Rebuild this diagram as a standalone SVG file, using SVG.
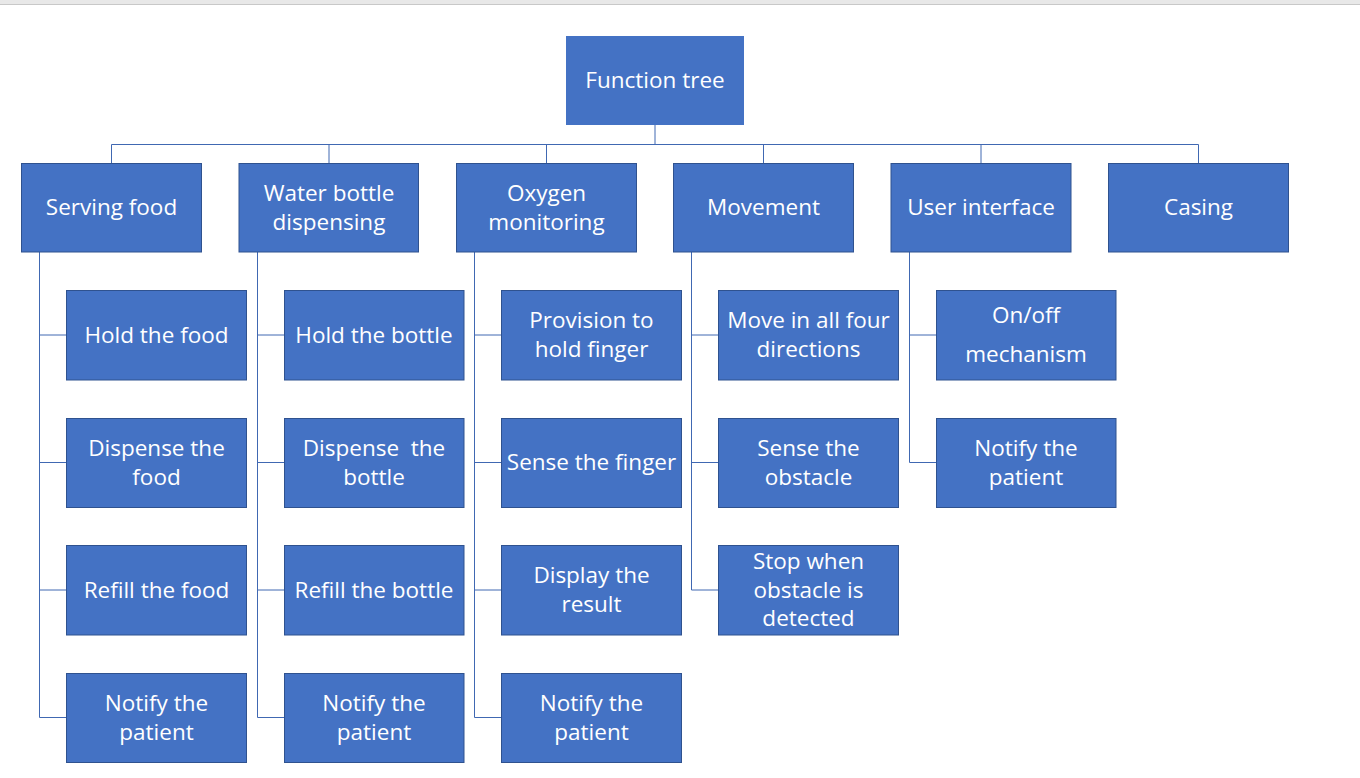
<svg xmlns="http://www.w3.org/2000/svg" width="1360" height="778" viewBox="0 0 1360 778">
<style>
.b{fill:#4472C4;stroke:#2F528F;stroke-width:1}
.r{fill:#4472C4}
.t{font-family:"Open Sans","Noto Sans",sans-serif;font-size:22.5px;fill:#ffffff;text-anchor:middle;white-space:pre}
.c{fill:none;stroke:#4068B2;stroke-width:1}
</style>
<rect x="0" y="0" width="1360" height="778" fill="#ffffff"/>
<rect x="0" y="0" width="1360" height="4" fill="#e8e8e8"/>
<line x1="0" y1="4.5" x2="1360" y2="4.5" stroke="#c8c8c8" stroke-width="1"/>
<g id="connectors">
<line class="c" x1="655" y1="125" x2="655" y2="144" stroke-width="2"/>
<path class="c" d="M111.5 163V144.5H1198.5V163M329 144.5V163M546.5 144.5V163M763.5 144.5V163M981 144.5V163"/>
<path class="c" d="M39.5 252V717.5H66M39.5 335H66M39.5 462.5H66M39.5 590H66"/>
<path class="c" d="M257.5 252V717.5H284M257.5 335H284M257.5 462.5H284M257.5 590H284"/>
<path class="c" d="M474.5 252V717.5H501M474.5 335H501M474.5 462.5H501M474.5 590H501"/>
<path class="c" d="M691.5 252V590H718M691.5 335H718M691.5 462.5H718"/>
<path class="c" d="M909.5 252V462.5H936M909.5 335H936"/>
</g>
<g id="root"><rect class="r" x="566" y="36" width="178" height="89"/><text class="t" x="655" y="88">Function tree</text></g>
<g id="serving"><rect class="b" x="21.5" y="163.5" width="180" height="88.5"/><text class="t" x="111.5" y="215">Serving food</text></g>
<g id="water"><rect class="b" x="239" y="163.5" width="179.5" height="88.5"/><text class="t" x="329" y="200.5">Water bottle</text><text class="t" x="329" y="229.5">dispensing</text></g>
<g id="oxygen"><rect class="b" x="456.5" y="163.5" width="180" height="88.5"/><text class="t" x="546.5" y="200.5">Oxygen</text><text class="t" x="546.5" y="229.5">monitoring</text></g>
<g id="movement"><rect class="b" x="673.5" y="163.5" width="180" height="88.5"/><text class="t" x="763.5" y="215">Movement</text></g>
<g id="ui"><rect class="b" x="891" y="163.5" width="180" height="88.5"/><text class="t" x="981" y="215">User interface</text></g>
<g id="casing"><rect class="b" x="1108.5" y="163.5" width="180" height="88.5"/><text class="t" x="1198.5" y="215">Casing</text></g>

<g id="hold-food"><rect class="b" x="66.5" y="290.5" width="180" height="89.5"/><text class="t" x="156.5" y="343">Hold the food</text></g>
<g id="dispense-food"><rect class="b" x="66.5" y="418.5" width="180" height="89"/><text class="t" x="156.5" y="455.5">Dispense the</text><text class="t" x="156.5" y="484.5">food</text></g>
<g id="refill-food"><rect class="b" x="66.5" y="545.5" width="180" height="89.5"/><text class="t" x="156.5" y="598">Refill the food</text></g>
<g id="notify-food"><rect class="b" x="66.5" y="673.5" width="180" height="89"/><text class="t" x="156.5" y="710.5">Notify the</text><text class="t" x="156.5" y="739.5">patient</text></g>

<g id="hold-bottle"><rect class="b" x="284.5" y="290.5" width="179.5" height="89.5"/><text class="t" x="374" y="343">Hold the bottle</text></g>
<g id="dispense-bottle"><rect class="b" x="284.5" y="418.5" width="179.5" height="89"/><text class="t" x="374" y="455.5">Dispense  the</text><text class="t" x="374" y="484.5">bottle</text></g>
<g id="refill-bottle"><rect class="b" x="284.5" y="545.5" width="179.5" height="89.5"/><text class="t" x="374" y="598">Refill the bottle</text></g>
<g id="notify-bottle"><rect class="b" x="284.5" y="673.5" width="179.5" height="89"/><text class="t" x="374" y="710.5">Notify the</text><text class="t" x="374" y="739.5">patient</text></g>

<g id="hold-finger"><rect class="b" x="501.5" y="290.5" width="180" height="89.5"/><text class="t" x="591.5" y="328">Provision to</text><text class="t" x="591.5" y="357">hold finger</text></g>
<g id="sense-finger"><rect class="b" x="501.5" y="418.5" width="180" height="89"/><text class="t" x="591.5" y="470">Sense the finger</text></g>
<g id="display-result"><rect class="b" x="501.5" y="545.5" width="180" height="89.5"/><text class="t" x="591.5" y="583">Display the</text><text class="t" x="591.5" y="612">result</text></g>
<g id="notify-oxygen"><rect class="b" x="501.5" y="673.5" width="180" height="89"/><text class="t" x="591.5" y="710.5">Notify the</text><text class="t" x="591.5" y="739.5">patient</text></g>

<g id="move"><rect class="b" x="718.5" y="290.5" width="180" height="89.5"/><text class="t" x="808.5" y="328">Move in all four</text><text class="t" x="808.5" y="357">directions</text></g>
<g id="sense-obstacle"><rect class="b" x="718.5" y="418.5" width="180" height="89"/><text class="t" x="808.5" y="455.5">Sense the</text><text class="t" x="808.5" y="484.5">obstacle</text></g>
<g id="stop"><rect class="b" x="718.5" y="545.5" width="180" height="89.5"/><text class="t" x="808.5" y="569">Stop when</text><text class="t" x="808.5" y="597.5">obstacle is</text><text class="t" x="808.5" y="626">detected</text></g>

<g id="onoff"><rect class="b" x="936.5" y="290.5" width="179.5" height="89.5"/><text class="t" x="1026" y="323">On/off</text><text class="t" x="1026" y="362">mechanism</text></g>
<g id="notify-ui"><rect class="b" x="936.5" y="418.5" width="179.5" height="89"/><text class="t" x="1026" y="455.5">Notify the</text><text class="t" x="1026" y="484.5">patient</text></g>
</svg>
